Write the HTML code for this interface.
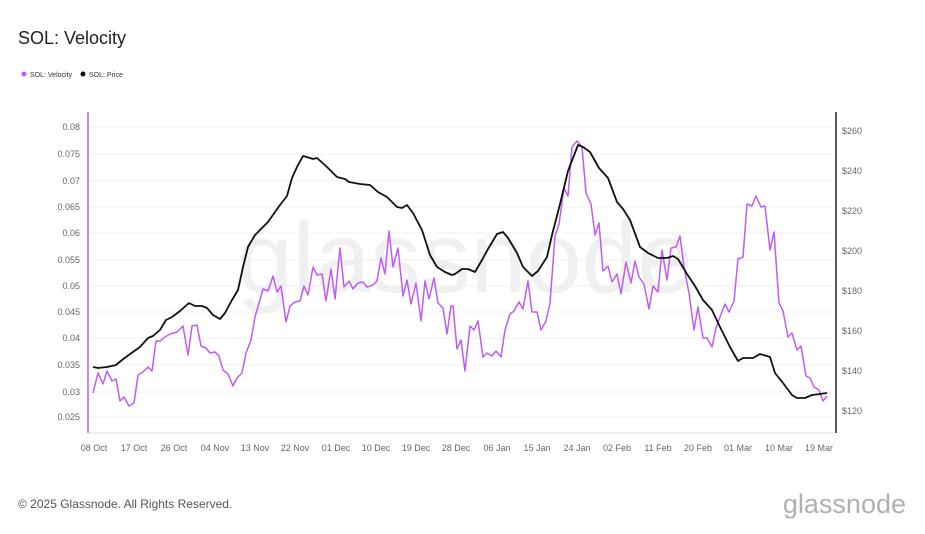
<!DOCTYPE html>
<html><head><meta charset="utf-8"><style>
body{margin:0;background:#fff;width:925px;height:529px;overflow:hidden;font-family:"Liberation Sans",sans-serif;}
</style></head><body>
<svg width="925" height="529" xmlns="http://www.w3.org/2000/svg" font-family="Liberation Sans, sans-serif">
<text x="18" y="44" font-size="18" fill="#222">SOL: Velocity</text>
<circle cx="24" cy="74" r="2.5" fill="#c05cf5"/><text x="30" y="77" font-size="7" fill="#333">SOL: Velocity</text>
<circle cx="83" cy="74" r="2.5" fill="#111"/><text x="89" y="77" font-size="7" fill="#333">SOL: Price</text>
<text x="465" y="292" font-size="100" fill="#f0f0f0" text-anchor="middle">glassnode</text>
<g stroke="#f0f0f0" stroke-width="1">
<line x1="89" x2="835" y1="127" y2="127"/><line x1="89" x2="835" y1="154" y2="154"/><line x1="89" x2="835" y1="181" y2="181"/><line x1="89" x2="835" y1="207" y2="207"/><line x1="89" x2="835" y1="233" y2="233"/><line x1="89" x2="835" y1="260" y2="260"/><line x1="89" x2="835" y1="286" y2="286"/><line x1="89" x2="835" y1="312" y2="312"/><line x1="89" x2="835" y1="338" y2="338"/><line x1="89" x2="835" y1="365" y2="365"/><line x1="89" x2="835" y1="392" y2="392"/><line x1="89" x2="835" y1="417" y2="417"/>
</g>
<line x1="89" x2="835" y1="433" y2="433" stroke="#ddd"/>
<line x1="88" x2="88" y1="112" y2="433" stroke="#c05cf5" stroke-width="1.5"/>
<line x1="836" x2="836" y1="112" y2="433" stroke="#222" stroke-width="1.5"/>
<g font-size="9" fill="#666" text-anchor="end">
<text x="80" y="130">0.08</text><text x="80" y="157">0.075</text><text x="80" y="184">0.07</text><text x="80" y="210">0.065</text><text x="80" y="236">0.06</text><text x="80" y="263">0.055</text><text x="80" y="289">0.05</text><text x="80" y="315">0.045</text><text x="80" y="341">0.04</text><text x="80" y="368">0.035</text><text x="80" y="395">0.03</text><text x="80" y="420">0.025</text>
</g>
<g font-size="9" fill="#666">
<text x="842" y="134">$260</text><text x="842" y="174">$240</text><text x="842" y="214">$220</text><text x="842" y="254">$200</text><text x="842" y="294">$180</text><text x="842" y="334">$160</text><text x="842" y="374">$140</text><text x="842" y="414">$120</text>
</g>
<g font-size="9" fill="#666" text-anchor="middle">
<text x="94" y="451">08 Oct</text><text x="134" y="451">17 Oct</text><text x="174" y="451">26 Oct</text><text x="215" y="451">04 Nov</text><text x="255" y="451">13 Nov</text><text x="295" y="451">22 Nov</text><text x="336" y="451">01 Dec</text><text x="376" y="451">10 Dec</text><text x="416" y="451">19 Dec</text><text x="456" y="451">28 Dec</text><text x="497" y="451">06 Jan</text><text x="537" y="451">15 Jan</text><text x="577" y="451">24 Jan</text><text x="617" y="451">02 Feb</text><text x="658" y="451">11 Feb</text><text x="698" y="451">20 Feb</text><text x="738" y="451">01 Mar</text><text x="779" y="451">10 Mar</text><text x="819" y="451">19 Mar</text>
</g>
<polyline fill="none" stroke="#c05cf5" stroke-width="1.5" stroke-linejoin="round" points="93,393 98,373 103,384 107,371 112,381 116,379 120,401 124,397 129,406 134,403 138,375 143,372 148,367 152,371 156,341 160,341 165,337 170,334 177,332 183,326 188,355 192,326 197,325 201,346 206,348 210,353 215,352 219,356 223,370 228,374 233,386 237,378 242,373 246,353 251,340 255,317 259,303 263,289 268,291 273,276 277,292 281,286 286,322 290,306 295,302 300,301 304,286 308,295 313,267 317,275 322,274 326,301 331,269 335,299 340,248 344,287 349,281 353,289 358,283 363,282 367,287 373,285 377,281 381,258 385,274 389,231 393,267 398,248 403,296 407,280 411,304 416,283 421,321 425,281 429,299 434,278 438,303 443,308 447,334 451,306 453,306 457,349 461,340 465,371 470,326 474,330 478,321 483,357 487,353 492,356 496,351 501,357 505,330 510,314 514,311 519,302 523,309 528,281 532,312 537,312 541,330 546,321 550,303 555,236 559,224 564,188 568,196 572,147 577,141 582,147 586,193 591,204 595,235 599,223 603,271 608,266 612,282 617,274 621,294 626,262 631,283 635,261 639,277 644,284 649,309 653,286 658,292 662,250 667,280 671,248 676,247 680,236 684,267 689,293 694,330 698,307 703,338 707,338 712,347 716,328 720,317 725,304 729,312 734,301 738,259 743,257 747,204 752,206 756,196 761,207 765,206 770,250 774,232 779,303 783,311 788,337 792,333 797,350 801,346 806,376 810,378 814,387 819,390 823,401 827,396"/>
<polyline fill="none" stroke="#111" stroke-width="1.8" stroke-linejoin="round" points="93,367 98,368 107,367 116,365 122,360 130,354 140,347 148,338 153,336 160,330 166,320 172,317 180,311 189,303 195,306 202,306 207,308 213,315 220,319 225,313 232,300 238,290 243,267 248,247 255,235 262,228 268,222 275,212 280,205 287,196 292,178 297,167 303,156 310,158 313,159 317,158 327,167 337,177 345,179 349,182 360,184 370,185 378,192 387,197 397,207 402,208 407,205 413,213 422,230 430,255 437,267 445,272 452,275 455,274 462,269 468,269 475,272 482,260 488,249 497,234 503,232 508,238 517,253 523,267 532,276 538,271 547,257 552,235 560,204 568,171 578,145 583,147 590,152 599,168 608,178 617,202 623,209 630,220 640,247 648,253 658,258 667,258 673,256 678,259 687,274 695,286 703,300 712,310 720,327 730,347 738,361 743,358 753,358 760,354 770,357 775,373 783,383 792,395 797,398 805,398 812,395 820,394 827,393"/>
<text x="18" y="508" font-size="12" fill="#555">© 2025 Glassnode. All Rights Reserved.</text>
<text x="906" y="513" font-size="27" fill="#b0b0b0" text-anchor="end">glassnode</text>
</svg>
</body></html>
